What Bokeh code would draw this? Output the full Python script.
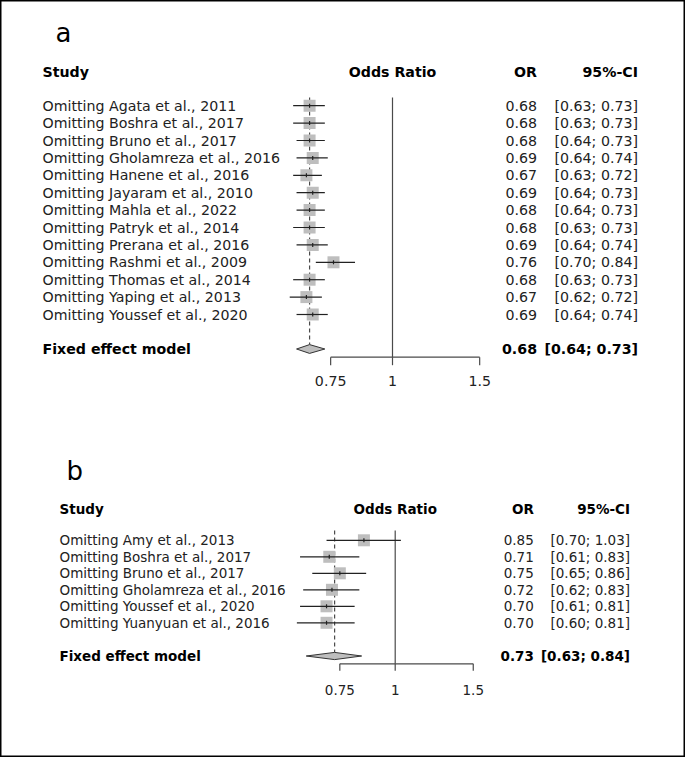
import math
from bokeh.plotting import figure
from bokeh.models import Range1d, LogScale
from bokeh.core.properties import value
from bokeh.embed import file_html
from bokeh.resources import INLINE

# ---------------- data ----------------
studies_a = ["Omitting Agata et al., 2011", "Omitting Boshra et al., 2017",
             "Omitting Bruno et al., 2017", "Omitting Gholamreza et al., 2016",
             "Omitting Hanene et al., 2016", "Omitting Jayaram et al., 2010",
             "Omitting Mahla et al., 2022", "Omitting Patryk et al., 2014",
             "Omitting Prerana et al., 2016", "Omitting Rashmi et al., 2009",
             "Omitting Thomas et al., 2014", "Omitting Yaping et al., 2013",
             "Omitting Youssef et al., 2020"]
or_a = [0.68, 0.68, 0.68, 0.69, 0.67, 0.69, 0.68, 0.68, 0.69, 0.76, 0.68, 0.67, 0.69]
lo_a = [0.63, 0.63, 0.64, 0.64, 0.63, 0.64, 0.64, 0.63, 0.64, 0.70, 0.63, 0.62, 0.64]
hi_a = [0.73, 0.73, 0.73, 0.74, 0.72, 0.73, 0.73, 0.73, 0.74, 0.84, 0.73, 0.72, 0.74]
fixed_a = [0.68, 0.64, 0.73]

studies_b = ["Omitting Amy et al., 2013", "Omitting Boshra et al., 2017",
             "Omitting Bruno et al., 2017", "Omitting Gholamreza et al., 2016",
             "Omitting Youssef et al., 2020", "Omitting Yuanyuan et al., 2016"]
or_b = [0.85, 0.71, 0.75, 0.72, 0.70, 0.70]
lo_b = [0.70, 0.61, 0.65, 0.62, 0.61, 0.60]
hi_b = [1.03, 0.83, 0.86, 0.83, 0.81, 0.81]
fixed_b = [0.73, 0.63, 0.84]

tick_values = [0.75, 1.0, 1.5]
tick_labels = ["0.75", "1", "1.5"]
headers = ["Study", "Odds Ratio", "OR", "95%-CI"]
summary_label = "Fixed effect model"

# ---------------- layout ----------------
W, H = 685, 757
X0, Y0 = 0, 0
FONT = "DejaVu Sans"

p = figure(width=W, height=H, x_range=Range1d(X0, X0 + W), y_range=Range1d(Y0 + H, Y0),
           output_backend="svg", toolbar_location=None, min_border=0,
           x_axis_location=None, y_axis_location=None)
p.min_border_left = p.min_border_right = p.min_border_top = p.min_border_bottom = 0
p.grid.visible = False
p.outline_line_color = "black"
p.outline_line_width = 2
p.background_fill_color = "white"
p.border_fill_color = "white"

panels = [
    dict(name="a", studies=studies_a, ors=or_a, los=lo_a, his=hi_a, fixed=fixed_a,
         x1=392.0, k=215.0, label_x=55, label_y=32.0, head_y=71.0, row0=105.2, dy=17.4,
         fixed_y=348.5, axis_y=356.7, tick_len=8, ticklab_y=380.0, text_x=42,
         or_right=536.5, ci_right=637.5, fs=14.2, sq=12, diam_h=4.4, line_top=97.0),
    dict(name="b", studies=studies_b, ors=or_b, los=lo_b, his=hi_b, fixed=fixed_b,
         x1=394.7, k=192.5, label_x=66, label_y=470.0, head_y=508.0, row0=539.8, dy=16.5,
         fixed_y=655.5, axis_y=663.3, tick_len=7, ticklab_y=689.0, text_x=59,
         or_right=533.3, ci_right=629.5, fs=13.5, sq=12, diam_h=3.6, line_top=530.0),
]

extra_ranges = {}
extra_scales = {}
for P in panels:
    lo = math.exp((X0 - P["x1"]) / P["k"])
    hi = math.exp((X0 + W - P["x1"]) / P["k"])
    extra_ranges[P["name"]] = Range1d(lo, hi)
    extra_scales[P["name"]] = LogScale()
p.extra_x_ranges = extra_ranges
p.extra_x_scales = extra_scales

GRAY = "#BEBEBE"
LINE = "#4a4a4a"

for P in panels:
    rn = P["name"]
    fs = value(f'{P["fs"]}px')
    n = len(P["studies"])
    ys = [P["row0"] + i * P["dy"] for i in range(n)]
    fy = P["fixed_y"]
    f_or, f_lo, f_hi = P["fixed"]

    # panel label
    p.text(x=[P["label_x"]], y=[P["label_y"]], text=[rn], text_font=value(FONT),
           text_font_size=value("26px"), text_baseline="middle", text_align="left",
           text_color="black")

    # headers
    hy = [P["head_y"]]
    p.text(x=[P["text_x"]], y=hy, text=[headers[0]], text_font=value(FONT), text_font_style="bold",
           text_font_size=fs, text_baseline="middle", text_align="left", text_color="black")
    p.text(x=[1.0], y=hy, text=[headers[1]], text_font=value(FONT), text_font_style="bold",
           text_font_size=fs, text_baseline="middle", text_align="center", text_color="black",
           x_range_name=rn)
    p.text(x=[P["or_right"]], y=hy, text=[headers[2]], text_font=value(FONT), text_font_style="bold",
           text_font_size=fs, text_baseline="middle", text_align="right", text_color="black")
    p.text(x=[P["ci_right"]], y=hy, text=[headers[3]], text_font=value(FONT), text_font_style="bold",
           text_font_size=fs, text_baseline="middle", text_align="right", text_color="black")

    # reference lines
    p.segment(x0=[1.0], x1=[1.0], y0=[P["line_top"]], y1=[P["axis_y"]], line_color=LINE,
              line_width=1.2, x_range_name=rn)
    p.segment(x0=[f_or], x1=[f_or], y0=[P["line_top"]], y1=[fy - P["diam_h"]], line_color=LINE,
              line_width=1.2, line_dash="4 3", x_range_name=rn)

    # studies
    p.scatter(x=P["ors"], y=ys, marker="square", size=P["sq"], fill_color=GRAY,
              line_color=None, x_range_name=rn)
    p.segment(x0=P["los"], x1=P["his"], y0=ys, y1=ys, line_color="#222222", line_width=1.2,
              x_range_name=rn)
    p.segment(x0=P["ors"], x1=P["ors"], y0=[y - 2 for y in ys], y1=[y + 2 for y in ys],
              line_color="#222222", line_width=1.2, x_range_name=rn)

    p.text(x=[P["text_x"]] * n, y=ys, text=P["studies"], text_font=value(FONT),
           text_font_size=fs, text_baseline="middle", text_align="left", text_color="#222222")
    p.text(x=[P["or_right"]] * n, y=ys, text=[f"{v:.2f}" for v in P["ors"]], text_font=value(FONT),
           text_font_size=fs, text_baseline="middle", text_align="right", text_color="#222222")
    p.text(x=[P["ci_right"]] * n, y=ys,
           text=[f"[{a:.2f}; {b:.2f}]" for a, b in zip(P["los"], P["his"])],
           text_font=value(FONT), text_font_size=fs, text_baseline="middle", text_align="right",
           text_color="#222222")

    # summary diamond
    dh = P["diam_h"]
    p.patch(x=[f_lo, f_or, f_hi, f_or], y=[fy, fy - dh, fy, fy + dh], fill_color=GRAY,
            line_color="#333333", line_width=1, x_range_name=rn)
    p.text(x=[P["text_x"]], y=[fy], text=[summary_label], text_font=value(FONT),
           text_font_style="bold", text_font_size=fs, text_baseline="middle", text_align="left",
           text_color="black")
    p.text(x=[P["or_right"]], y=[fy], text=[f"{f_or:.2f}"], text_font=value(FONT),
           text_font_style="bold", text_font_size=fs, text_baseline="middle", text_align="right",
           text_color="black")
    p.text(x=[P["ci_right"]], y=[fy], text=[f"[{f_lo:.2f}; {f_hi:.2f}]"], text_font=value(FONT),
           text_font_style="bold", text_font_size=fs, text_baseline="middle", text_align="right",
           text_color="black")

    # axis
    ay = P["axis_y"]
    p.segment(x0=[tick_values[0]], x1=[tick_values[-1]], y0=[ay], y1=[ay], line_color=LINE,
              line_width=1.2, x_range_name=rn)
    p.segment(x0=tick_values, x1=tick_values, y0=[ay] * len(tick_values),
              y1=[ay + P["tick_len"]] * len(tick_values), line_color=LINE, line_width=1.2,
              x_range_name=rn)
    p.text(x=tick_values, y=[P["ticklab_y"]] * len(tick_values), text=tick_labels,
           text_font=value(FONT), text_font_size=fs, text_baseline="middle", text_align="center",
           text_color="#222222", x_range_name=rn)

open("out.html", "w").write(file_html(p, INLINE))
